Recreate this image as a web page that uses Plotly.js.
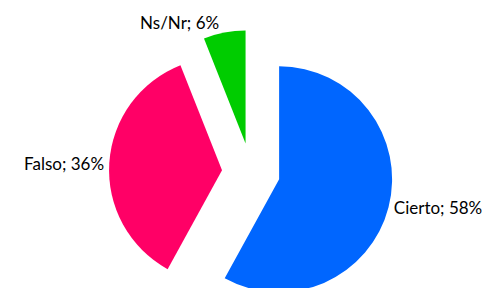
<!DOCTYPE html>
<html>
<head>
<meta charset="utf-8">
<script src="https://cdn.plot.ly/plotly-3.0.1.min.js"></script>
<style>
html, body { margin:0; padding:0; overflow:hidden; background:#fff; }
#chart { width:494px; height:314px; }
</style>
</head>
<body>
<div id="chart"></div>
<script>
const labels = ["Cierto", "Falso", "Ns/Nr"];
const values = [58, 36, 6];
const colors = ["#0066FF", "#FF0066", "#00CC00"];

const trace = {
  type: "pie",
  labels: labels,
  values: values,
  sort: false,
  direction: "clockwise",
  rotation: 0,
  pull: [0.257, 0.257, 0.257],
  marker: { colors: colors, line: { width: 0 } },
  textposition: "outside",
  texttemplate: "%{label}; %{percent:.0%}",
  outsidetextfont: { family: "Lato, sans-serif", size: 17, color: "#000" },
  hoverinfo: "none",
  domain: { x: [8/494, 1], y: [0, 1] }
};

const layout = {
  width: 494,
  height: 314,
  margin: { l: 0, r: 0, t: 30, b: 0 },
  showlegend: false,
  paper_bgcolor: "#fff",
  plot_bgcolor: "#fff"
};

Plotly.newPlot("chart", [trace], layout, { staticPlot: true, displayModeBar: false });
</script>
</body>
</html>
